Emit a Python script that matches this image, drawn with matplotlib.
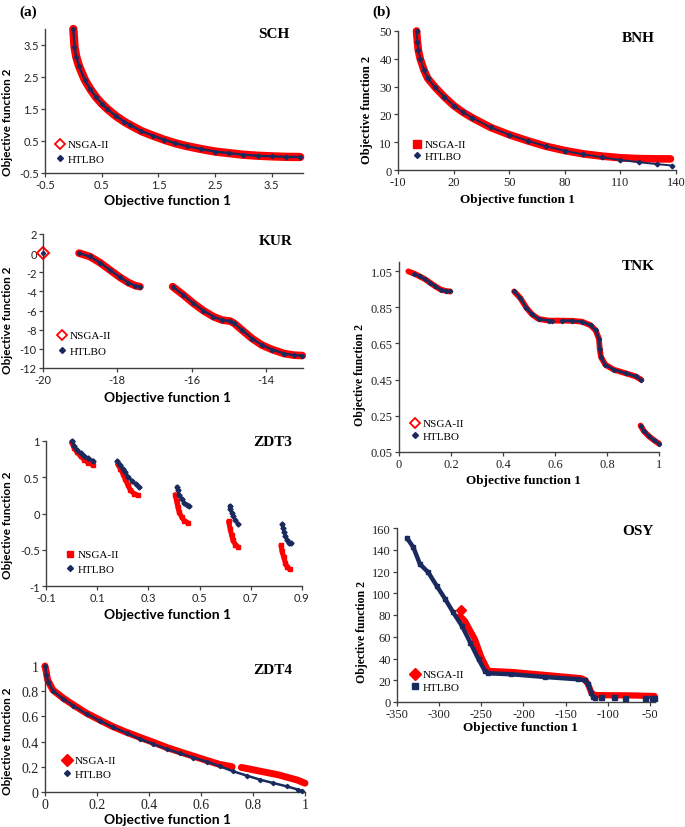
import numpy as np
import matplotlib
matplotlib.use("Agg")
import matplotlib.pyplot as plt
from matplotlib.lines import Line2D

plt.rcParams['axes.unicode_minus'] = False
nan = np.nan

# ---------------- data ----------------
SCH_f1 = [0, 0.02, 0.05, 0.1, 0.2, 0.3, 0.4, 0.5, 0.6, 0.75, 0.9, 1.0, 1.2, 1.4, 1.6, 1.8,
          2.0, 2.25, 2.5, 2.75, 3.0, 3.25, 3.5, 3.75, 4.0]
SCH_f2 = [4.0, 3.45, 3.14, 2.84, 2.42, 2.12, 1.87, 1.67, 1.5, 1.28, 1.1, 1.0, 0.81, 0.67, 0.54, 0.43,
          0.34, 0.25, 0.17, 0.12, 0.07, 0.04, 0.02, 0.005, 0.0]

KUR_f1 = [-20.0, nan, -19.03, -18.74, -18.47, -18.2, -17.93, -17.7, -17.52, -17.39, nan,
          -16.51, -16.22, -15.95, -15.68, -15.41, -15.18, -14.96, -14.85, -14.64, -14.37,
          -14.1, -13.83, -13.51, -13.24, -13.02]
KUR_f2 = [0.0, nan, 0.0, -0.35, -0.98, -1.75, -2.52, -3.08, -3.39, -3.5, nan,
          -3.5, -4.37, -5.24, -6.01, -6.64, -6.99, -7.1, -7.34, -8.04, -8.92,
          -9.62, -10.07, -10.49, -10.66, -10.7]

ZDT3_htlbo_f1 = [0.0, 0.01, 0.02, 0.035, 0.05, 0.065, 0.085, nan,
                 0.178, 0.19, 0.2, 0.21, 0.22, 0.235, 0.25, 0.262, nan,
                 0.41, 0.415, 0.42, 0.43, 0.44, 0.45, 0.46, nan,
                 0.617, 0.62, 0.625, 0.63, 0.64, 0.65, nan,
                 0.821, 0.825, 0.83, 0.835, 0.84, 0.85, 0.857]
ZDT3_htlbo_f2 = [1.0, 0.93, 0.88, 0.83, 0.79, 0.76, 0.73, nan,
                 0.72, 0.67, 0.62, 0.57, 0.51, 0.45, 0.41, 0.37, nan,
                 0.37, 0.32, 0.26, 0.2, 0.15, 0.12, 0.11, nan,
                 0.11, 0.06, 0.01, -0.03, -0.09, -0.15, nan,
                 -0.15, -0.2, -0.26, -0.31, -0.36, -0.4, -0.41]
ZDT3_nsga_f1 = [0.0, 0.01, 0.02, 0.035, 0.05, 0.065, 0.085, nan,
                0.18, 0.19, 0.2, 0.21, 0.22, 0.23, 0.245, 0.26, nan,
                0.405, 0.41, 0.415, 0.42, 0.43, 0.44, 0.455, nan,
                0.613, 0.62, 0.625, 0.63, 0.64, 0.65, nan,
                0.818, 0.822, 0.828, 0.835, 0.842, 0.852]
ZDT3_nsga_f2 = [0.98, 0.9, 0.85, 0.79, 0.74, 0.70, 0.67, nan,
                0.68, 0.62, 0.55, 0.47, 0.39, 0.32, 0.27, 0.25, nan,
                0.26, 0.17, 0.09, 0.02, -0.05, -0.10, -0.13, nan,
                -0.11, -0.22, -0.30, -0.37, -0.43, -0.46, nan,
                -0.44, -0.52, -0.60, -0.68, -0.74, -0.77]

ZDT4_htlbo_f1 = [0.0, 0.005, 0.013, 0.032, 0.07, 0.109, 0.16, 0.21, 0.263, 0.314, 0.365, 0.417,
                 0.468, 0.519, 0.571, 0.622, 0.673, 0.724, 0.776, 0.827, 0.878, 0.929, 0.974, 0.987]
ZDT4_htlbo_f2 = [1.0, 0.93, 0.87, 0.80, 0.74, 0.685, 0.62, 0.566, 0.513, 0.468, 0.42, 0.381,
                 0.341, 0.307, 0.272, 0.241, 0.204, 0.164, 0.13, 0.098, 0.071, 0.045, 0.019, 0.01]
ZDT4_nsga_f1 = [0.0, 0.005, 0.01, 0.03, 0.07, 0.11, 0.16, 0.21, 0.26, 0.31, 0.37, 0.42, 0.47,
                0.52, 0.57, 0.62, 0.67, 0.72, nan, 0.755, 0.78, 0.82, 0.86, 0.9, 0.94, 0.97, 1.0]
ZDT4_nsga_f2 = [1.0, 0.95, 0.89, 0.81, 0.745, 0.69, 0.625, 0.572, 0.52, 0.477, 0.43, 0.392, 0.352,
                0.318, 0.285, 0.252, 0.22, 0.2, nan, 0.195, 0.185, 0.168, 0.152, 0.135, 0.112, 0.095, 0.07]

BNH_htlbo_f1 = [0, 0.5, 1, 2, 4, 6, 10, 15, 20, 25, 30, 40, 50, 60, 70, 80, 90, 100, 110, 120, 130, 138]
BNH_htlbo_f2 = [50, 46, 43, 40, 36, 33, 29.8, 26.3, 23.2, 20.8, 18.8, 15.3, 12.7, 10.5, 8.5, 6.9,
                5.6, 4.6, 3.6, 2.8, 2.1, 1.6]
BNH_nsga_f1 = [0, 0.5, 1, 2, 4, 6, 10, 15, 20, 25, 30, 40, 50, 60, 70, 80, 90, 100, 110, 120, 130, 137]
BNH_nsga_f2 = [50, 46, 43, 40, 36, 33, 29.8, 26.3, 23.2, 20.8, 18.8, 15.3, 12.7, 10.5, 8.5, 7.0,
               5.8, 5.0, 4.4, 4.1, 4.0, 4.0]

TNK_nsga_f1 = [0.036, 0.05, 0.06, 0.08, 0.1, 0.12, 0.14, 0.16, 0.18, 0.197, nan,
               0.443, 0.467, 0.49, 0.512, 0.537, 0.576, 0.614, 0.666, 0.704, 0.737, 0.756,
               0.769, 0.772, 0.777, 0.794, 0.826, 0.872, 0.91, 0.932, nan,
               0.929, 0.942, 0.961, 0.981, 1.0]
TNK_nsga_f2 = [1.048, 1.04, 1.035, 1.02, 1.005, 0.985, 0.965, 0.948, 0.94, 0.937, nan,
               0.937, 0.90, 0.847, 0.81, 0.785, 0.776, 0.776, 0.775, 0.77, 0.75, 0.723,
               0.676, 0.62, 0.574, 0.532, 0.505, 0.485, 0.468, 0.449, nan,
               0.196, 0.165, 0.137, 0.115, 0.096]
TNK_htlbo_f1 = [0.059, 0.08, 0.1, 0.12, 0.14, 0.16, 0.18, 0.197, nan,
                0.443, 0.467, 0.49, 0.512, 0.537, 0.576, 0.588, nan,
                0.626, 0.666, 0.704, 0.737, 0.756, 0.769, 0.772, 0.777, 0.794, 0.826,
                0.872, 0.91, 0.932, nan,
                0.929, 0.942, 0.961, 0.981, 1.0]
TNK_htlbo_f2 = [1.035, 1.02, 1.005, 0.985, 0.965, 0.948, 0.94, 0.937, nan,
                0.937, 0.90, 0.847, 0.81, 0.785, 0.776, 0.776, nan,
                0.776, 0.775, 0.77, 0.75, 0.723, 0.676, 0.62, 0.574, 0.532, 0.505,
                0.485, 0.468, 0.449, nan,
                0.196, 0.165, 0.137, 0.115, 0.096]

OSY_htlbo_f1 = [-338.2, -330.6, -322.8, -312.9, -303, -292.8, -283.3, -273, -263.1, -253.3,
                -245.8, -241.8, -214.2, -174.7, -135.2, -127.4, -123.4, -119.4, -117.5, -115.5]
OSY_htlbo_f2 = [150.8, 142.2, 126.8, 119.2, 106.9, 94.6, 82.3, 70, 54.7, 39.3,
                28.6, 26.4, 25.5, 23, 20.9, 20, 16.9, 8.6, 4.6, 4.0]
OSY_htlbo_tail_f1 = [-107.6, -92.6, -80, -56.3, -48, -45]
OSY_htlbo_tail_f2 = [4.2, 4.2, 4.0, 3.9, 3.6, 3.5]
OSY_nsga_f1 = [-274.6, nan, -275.4, -269.5, -263.5, -257.6, -249.7, -241.8, -214, -174.7, -131.3,
               -126.6, -123.4, -119.5, -115.5, -100, -76, -60, -44.4]
OSY_nsga_f2 = [84.5, nan, 79.2, 74.6, 66, 57.7, 40.8, 28.6, 27.6, 24.9, 21.8,
               20, 16.3, 8.6, 6.4, 6.2, 6.1, 5.8, 5.5]

SERIES = ["NSGA-II", "HTLBO"]

# tick labels
SCH_xticks = [-0.5, 0.5, 1.5, 2.5, 3.5]
SCH_yticks = [-0.5, 0.5, 1.5, 2.5, 3.5]
KUR_xticks = [-20, -18, -16, -14]
KUR_yticks = [-12, -10, -8, -6, -4, -2, 0, 2]
ZDT3_xticks = [-0.1, 0.1, 0.3, 0.5, 0.7, 0.9]
ZDT3_yticks = [-1, -0.5, 0, 0.5, 1]
ZDT4_ticks = [0, 0.2, 0.4, 0.6, 0.8, 1]
BNH_xticks = [-10, 20, 50, 80, 110, 140]
BNH_yticks = [0, 10, 20, 30, 40, 50]
TNK_xticks = [0, 0.2, 0.4, 0.6, 0.8, 1]
TNK_yticks = [0.05, 0.25, 0.45, 0.65, 0.85, 1.05]
OSY_xticks = [-350, -300, -250, -200, -150, -100, -50]
OSY_yticks = [0, 20, 40, 60, 80, 100, 120, 140, 160]

# ---------------- styling ----------------
W, H = 685, 828
RED = "#ff0000"
NAVY = "#1b2a5e"
SANS = "Lato"
SERIF = "Liberation Serif"
SPINE = "#404040"

fig = plt.figure(figsize=(W / 100, H / 100), dpi=100)


def fmt(v):
    return "%g" % v


def add_ax(l, t, r, b):
    ax = fig.add_axes([l / W, 1 - b / H, (r - l) / W, (b - t) / H])
    for s in ("top", "right"):
        ax.spines[s].set_visible(False)
    for s in ("left", "bottom"):
        ax.spines[s].set_color(SPINE)
        ax.spines[s].set_linewidth(1.0)
    ax.tick_params(direction="out", length=3, width=0.9, color=SPINE, pad=1.5)
    ax.patch.set_alpha(0)
    return ax


def setup(ax, rect, xlim, ylim, xt, yt, tick_font, tick_size, label_font,
          xl_pos, yl_pos, xl_size, yl_size, title, title_pos):
    l, t, r, b = rect
    ax.set_xlim(*xlim)
    ax.set_ylim(*ylim)
    ax.set_xticks(xt)
    ax.set_yticks(yt)
    ax.set_xticklabels([fmt(v) for v in xt], family=tick_font,
                       fontsize=tick_size, color="#222222")
    ax.set_yticklabels([fmt(v) for v in yt], family=tick_font,
                       fontsize=tick_size, color="#222222")
    ax.set_xlabel("Objective function 1", family=label_font, fontweight="bold",
                  fontsize=xl_size, va="center", ha="center")
    ax.set_ylabel("Objective function 2", family=label_font, fontweight="bold",
                  fontsize=yl_size, va="center", ha="center")
    ax.xaxis.set_label_coords((xl_pos[0] - l) / (r - l), (b - xl_pos[1]) / (b - t))
    ax.yaxis.set_label_coords((yl_pos[0] - l) / (r - l), (b - yl_pos[1]) / (b - t))
    fig.text(title_pos[0] / W, 1 - title_pos[1] / H, title, family=SERIF,
             fontweight="bold", fontsize=11, ha="center", va="center")


def legend(ax, h1, h2, x_marker, y1, y2):
    fs = 8.0
    fs_px = fs * 100 / 72
    gap = y2 - y1
    ls = max(0.05, (gap - fs_px * 1.17) / fs_px)
    hl = 0.8
    anchor_x = x_marker - hl * fs_px / 2
    ax.legend([h1, h2], SERIES, loc="center left",
              bbox_to_anchor=(anchor_x / W, 1 - (y1 + y2) / 2 / H),
              bbox_transform=fig.transFigure, frameon=False, borderpad=0,
              borderaxespad=0, handlelength=hl, handletextpad=0.25,
              labelspacing=ls, prop={"family": SERIF, "size": fs})


def mk(marker, ms, fc, ec, mew=1.0):
    return Line2D([], [], linestyle="none", marker=marker, markersize=ms,
                  markerfacecolor=fc, markeredgecolor=ec, markeredgewidth=mew)


def band(ax, x, y, lw, marker=None, ms=0):
    ax.plot(x, y, color=RED, lw=lw, solid_capstyle="round", solid_joinstyle="round",
            zorder=2, clip_on=False)
    if marker:
        ax.plot(x, y, ls="none", marker=marker, ms=ms, mfc=RED, mec=RED, zorder=2, clip_on=False)


def dots(ax, x, y, lw, marker="D", ms=2.0):
    ax.plot(x, y, color=NAVY, lw=lw, marker=marker, ms=ms, mec=NAVY, mfc=NAVY,
            solid_capstyle="round", solid_joinstyle="round", zorder=3, clip_on=False)


# ---------- (a) SCH ----------
rect = (45, 30, 303, 174)
ax = add_ax(*rect)
band(ax, SCH_f1, SCH_f2, 6.0)
dots(ax, SCH_f1, SCH_f2, 1.7, ms=2.2)
setup(ax, rect, (-0.5, 4.05), (-0.5, 4.0), SCH_xticks, SCH_yticks, SANS, 8, SANS,
      (168, 201), (8, 122), 10, 8.5, "SCH", (274, 35))
legend(ax, mk("D", 5, "white", RED, 1.3), mk("D", 3, NAVY, NAVY), 60, 144, 162)

# ---------- (a) KUR ----------
rect = (43, 235, 303, 369)
ax = add_ax(*rect)
band(ax, KUR_f1, KUR_f2, 5.5)
ax.plot(KUR_f1[:1], KUR_f2[:1], ls="none", marker="D", ms=6, mfc="white", mec=RED, mew=1.4,
        zorder=2, clip_on=False)
dots(ax, KUR_f1, KUR_f2, 1.7, ms=2.2)
setup(ax, rect, (-20, -13), (-12, 2), KUR_xticks, KUR_yticks, SANS, 8, SANS,
      (168, 398), (8, 320), 10, 8.5, "KUR", (276, 242))
legend(ax, mk("D", 5, "white", RED, 1.3), mk("D", 3, NAVY, NAVY), 62, 335, 354)

# ---------- (a) ZDT3 ----------
rect = (46, 442, 302, 587)
ax = add_ax(*rect)
band(ax, ZDT3_nsga_f1, ZDT3_nsga_f2, 3.6, "s", 3.0)
dots(ax, ZDT3_htlbo_f1, ZDT3_htlbo_f2, 2.2, ms=2.6)
setup(ax, rect, (-0.1, 0.9), (-1, 1), ZDT3_xticks, ZDT3_yticks, SANS, 8, SANS,
      (168, 615), (8, 525), 10, 8.5, "ZDT3", (273, 443))
legend(ax, mk("s", 4, RED, RED), mk("D", 3, NAVY, NAVY), 70, 554, 572)

# ---------- (a) ZDT4 ----------
rect = (45, 667, 305, 793)
ax = add_ax(*rect)
band(ax, ZDT4_nsga_f1, ZDT4_nsga_f2, 5.0)
dots(ax, ZDT4_htlbo_f1, ZDT4_htlbo_f2, 1.8, ms=2.2)
setup(ax, rect, (0, 1), (0, 1), ZDT4_ticks, ZDT4_ticks, SERIF, 10, SANS,
      (168, 820), (8, 741), 10, 8.5, "ZDT4", (273, 670))
legend(ax, mk("D", 6, RED, RED), mk("D", 3, NAVY, NAVY), 67, 760, 777)

# ---------- (b) BNH ----------
rect = (398, 32, 676, 171)
ax = add_ax(*rect)
band(ax, BNH_nsga_f1, BNH_nsga_f2, 5.5)
dots(ax, BNH_htlbo_f1, BNH_htlbo_f2, 1.4, ms=2.4)
setup(ax, rect, (-10, 140), (0, 50), BNH_xticks, BNH_yticks, SERIF, 9, SERIF,
      (517, 200), (367, 110), 9.5, 9, "BNH", (638, 38))
legend(ax, mk("s", 5.5, RED, RED), mk("D", 3, NAVY, NAVY), 417, 144, 159)

# ---------- (b) TNK ----------
rect = (399, 263, 659, 453)
ax = add_ax(*rect)
band(ax, TNK_nsga_f1, TNK_nsga_f2, 4.2)
dots(ax, TNK_htlbo_f1, TNK_htlbo_f2, 2.0, ms=2.2)
setup(ax, rect, (0, 1), (0.05, 1.1), TNK_xticks, TNK_yticks, SERIF, 9, SERIF,
      (523, 481), (360, 375), 9.5, 8.5, "TNK", (638, 267))
legend(ax, mk("D", 5, "white", RED, 1.3), mk("D", 3, NAVY, NAVY), 415, 423, 439)

# ---------- (b) OSY ----------
rect = (397, 529, 655, 703)
ax = add_ax(*rect)
band(ax, OSY_nsga_f1, OSY_nsga_f2, 4.5)
ax.plot(OSY_nsga_f1[:1], OSY_nsga_f2[:1], ls="none", marker="D", ms=5.5, mfc=RED, mec=RED,
        zorder=2, clip_on=False)
dots(ax, OSY_htlbo_f1, OSY_htlbo_f2, 3.2, marker="s", ms=2.6)
ax.plot(OSY_htlbo_tail_f1, OSY_htlbo_tail_f2, ls="none", marker="s", ms=3.6, mfc=NAVY, mec=NAVY,
        zorder=3, clip_on=False)
setup(ax, rect, (-350, -44), (0, 160), OSY_xticks, OSY_yticks, SERIF, 9, SERIF,
      (520, 728), (362, 632), 9.5, 8.5, "OSY", (638, 532))
legend(ax, mk("D", 6, RED, RED), mk("s", 4, NAVY, NAVY), 415, 674, 690)

# panel letters
fig.text(28 / W, 1 - 12 / H, "(a)", family=SERIF, fontweight="bold", fontsize=11, ha="center", va="center")
fig.text(382 / W, 1 - 12 / H, "(b)", family=SERIF, fontweight="bold", fontsize=11, ha="center", va="center")

fig.savefig("out.png", dpi=100, facecolor="white")
